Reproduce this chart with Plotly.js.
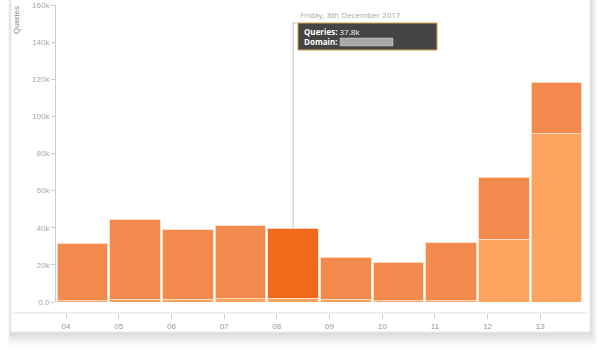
<!DOCTYPE html>
<html>
<head>
<meta charset="utf-8">
<script src="https://cdn.plot.ly/plotly-3.0.1.min.js"></script>
<style>html,body{margin:0;padding:0;background:#fff;}#chart{width:600px;height:353px;}</style>
</head>
<body>
<div id="chart"></div>
<script>
// ---- data ----
var days = ['04','05','06','07','08','09','10','11','12','13'];
var baseQueries = [700, 1500, 1500, 1800, 1900, 1600, 700, 700, 33800, 90700];
var topQueries  = [30900, 42700, 37300, 39200, 37800, 22500, 20700, 31100, 33400, 27700];
var yTickVals = [0, 20000, 40000, 60000, 80000, 100000, 120000, 140000, 160000];
var yTickText = ['0.0', '20k', '40k', '60k', '80k', '100k', '120k', '140k', '160k'];
var hoverIndex = 4;
var hoverDate = 'Friday, 8th December 2017';

// ---- geometry helpers (layout only) ----
var W = 600, H = 353, mL = 56, mR = 17, mT = 5, mB = 40;
var pw = W - mL - mR, ph = H - mT - mB;
function px(x) { return (x - mL) / pw; }
function py(y) { return (H - mB - y) / ph; }

var xs = days.map(function (d, i) { return i + 0.5; });
var tickPos = days.map(function (d, i) { return i + 0.19; });

var topColors = days.map(function (d, i) { return i === hoverIndex ? '#f06a1a' : '#f28a4e'; });
var baseColors = days.map(function (d, i) { return '#fca35f'; });

var traces = [
  { type: 'bar', x: xs, y: baseQueries, width: 0.96, hoverinfo: 'skip',
    marker: { color: baseColors, line: { color: 'rgba(255,222,198,0.9)', width: 1 } } },
  { type: 'bar', x: xs, y: topQueries, width: 0.96, hoverinfo: 'skip',
    marker: { color: topColors, line: { color: 'rgba(255,222,198,0.9)', width: 1 } } }
];

var hoverTotal = baseQueries[hoverIndex] + topQueries[hoverIndex];
var hoverText = (topQueries[hoverIndex] / 1000).toFixed(1) + 'k';

var shapes = [];
// card shadow
for (var k = 1; k <= 6; k++) {
  shapes.push({ type: 'rect', xref: 'paper', yref: 'paper', layer: 'below',
    x0: px(11 - k * 0.5), x1: px(590 + k * 1.2), y0: py(0), y1: py(332 + k * 2.2),
    fillcolor: 'rgba(0,0,0,0.022)', line: { width: 0 } });
}
// card
shapes.push({ type: 'rect', xref: 'paper', yref: 'paper', layer: 'below',
  x0: px(11), x1: px(590), y0: py(-2), y1: py(332),
  fillcolor: '#ffffff', line: { color: '#ececec', width: 1 } });
// x axis baseline
shapes.push({ type: 'line', xref: 'paper', yref: 'paper', layer: 'below',
  x0: px(12), x1: px(588), y0: py(313), y1: py(313), line: { color: '#dcdcdc', width: 1 } });
// hover vertical line
shapes.push({ type: 'line', xref: 'x', yref: 'y',
  x0: xs[hoverIndex], x1: xs[hoverIndex], y0: hoverTotal, y1: 150300,
  line: { color: '#c4c4c4', width: 1 } });
shapes.push({ type: 'line', xref: 'paper', yref: 'paper',
  x0: px(292), x1: px(298), y0: py(23), y1: py(23), line: { color: '#c4c4c4', width: 1 } });
// tooltip box
shapes.push({ type: 'rect', xref: 'paper', yref: 'paper',
  x0: px(298), x1: px(437), y0: py(23), y1: py(50),
  fillcolor: '#444444', line: { color: '#d2a640', width: 1 } });
// redacted domain
shapes.push({ type: 'rect', xref: 'paper', yref: 'paper',
  x0: px(340), x1: px(393), y0: py(38), y1: py(46),
  fillcolor: '#a9a9a9', line: { color: '#c8c8c8', width: 0.5 } });

var annotations = [
  { xref: 'paper', yref: 'paper', x: px(17), y: py(4), xanchor: 'center', yanchor: 'top',
    text: 'Queries', textangle: -90, showarrow: false,
    font: { family: 'Liberation Sans, Arial', size: 8, color: '#888' } },
  { xref: 'paper', yref: 'paper', x: px(298), y: py(15), xanchor: 'left', yanchor: 'middle',
    text: hoverDate, showarrow: false,
    font: { family: 'Open Sans, sans-serif', size: 8, color: '#aaa' } },
  { xref: 'paper', yref: 'paper', x: px(302), y: py(36.5), xanchor: 'left', yanchor: 'middle',
    align: 'left', showarrow: false,
    text: '<b>Queries:</b> ' + hoverText + '<br><b>Domain:</b>',
    font: { family: 'Open Sans, sans-serif', size: 8, color: '#ffffff' } }
];

var layout = {
  width: W, height: H,
  margin: { l: mL, r: mR, t: mT, b: mB, pad: 0 },
  paper_bgcolor: '#ffffff', plot_bgcolor: 'rgba(0,0,0,0)',
  showlegend: false, barmode: 'stack', bargap: 0,
  hovermode: false,
  font: { family: 'Liberation Sans, Arial, sans-serif', size: 8, color: '#999' },
  xaxis: {
    range: [0, 10], anchor: 'free', position: 0,
    tickmode: 'array', tickvals: tickPos, ticktext: days,
    ticks: 'outside', ticklen: 5, tickcolor: '#cccccc', tickwidth: 1,
    showline: false, showgrid: false, zeroline: false,
    tickfont: { size: 8, color: '#999' }, fixedrange: true
  },
  yaxis: {
    domain: [py(302), 1], range: [0, 160000],
    tickmode: 'array', tickvals: yTickVals, ticktext: yTickText,
    ticks: 'outside', ticklen: 4, tickcolor: '#cccccc', tickwidth: 1,
    showline: true, linecolor: '#cccccc', linewidth: 1,
    showgrid: false, zeroline: false,
    tickfont: { size: 8, color: '#aaa' }, fixedrange: true
  },
  shapes: shapes,
  annotations: annotations
};

Plotly.newPlot('chart', traces, layout, { displayModeBar: false, staticPlot: true });
</script>
</body>
</html>
